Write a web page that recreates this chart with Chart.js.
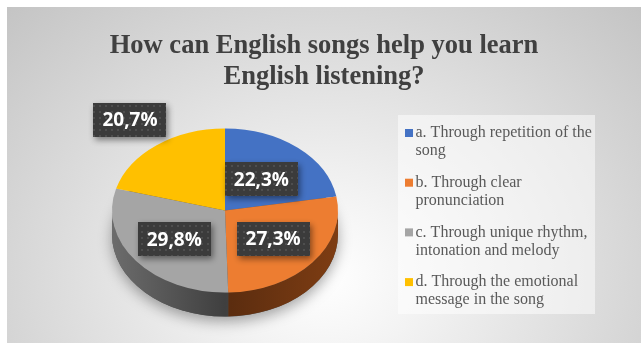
<!DOCTYPE html>
<html>
<head>
<meta charset="utf-8">
<script src="https://cdn.jsdelivr.net/npm/chart.js@4.4.1/dist/chart.umd.min.js"></script>
<style>
  html, body { margin: 0; padding: 0; background: #fff; }
  #wrap {
    position: absolute; left: 7px; top: 7px; width: 634px; height: 336px;
    background: radial-gradient(ellipse farthest-corner at 50% 80%, #ffffff 0%, #f3f3f3 22%, #c4c4c4 100%);
  }
  canvas { display: block; }
</style>
</head>
<body>
<div id="wrap"><canvas id="pieChart" width="634" height="336"></canvas></div>
<script>
const categories = [
  ['a. Through repetition of the', 'song'],
  ['b. Through clear', 'pronunciation'],
  ['c. Through unique rhythm,', 'intonation and melody'],
  ['d. Through the emotional', 'message in the song']
];
const shares = [22.3, 27.3, 29.8, 20.7];
const sliceColors = ['#4472C4', '#ED7D31', '#A5A5A5', '#FFC000'];
// side wall colours: [edge, middle]
const sideColors = [['#2f528f', '#203864'], ['#7e3d13', '#5a2c0f'], ['#6c6c6c', '#3f3f3f'], ['#b38600', '#7f6000']];
const chartTitle = ['How can English songs help you learn', 'English listening?'];

function pct(v) {
  return v.toFixed(1).replace('.', ',') + '%';
}

// dotted fill for the value boxes
function dotPattern(ctx) {
  const c = document.createElement('canvas');
  c.width = 6; c.height = 6;
  const p = c.getContext('2d');
  p.fillStyle = '#3b3b3b';
  p.fillRect(0, 0, 6, 6);
  p.fillStyle = '#4e4e4e';
  p.fillRect(2, 2, 2, 2);
  return ctx.createPattern(c, 'repeat');
}

// tilted pie: squash the arcs, add a front wall and the value boxes
const pie3d = {
  id: 'pie3d',
  beforeDatasetsDraw(chart, args, opts) {
    const ctx = chart.ctx;
    const arcs = chart.getDatasetMeta(0).data;
    const cx = arcs[0].x, cy = arcs[0].y, r = arcs[0].outerRadius;
    const ry = r * opts.tilt, d = opts.depth;

    ctx.save();
    ctx.shadowColor = 'rgba(0,0,0,0.35)';
    ctx.shadowBlur = 14;
    ctx.shadowOffsetY = 5;
    ctx.fillStyle = '#505050';
    ctx.beginPath();
    ctx.ellipse(cx, cy + d, r, ry, 0, 0, Math.PI * 2);
    ctx.fill();
    ctx.restore();

    arcs.forEach((arc, i) => {
      const a0 = Math.max(arc.startAngle, 0);
      const a1 = Math.min(arc.endAngle, Math.PI);
      if (a1 <= a0) return;
      const g = ctx.createLinearGradient(cx - r, 0, cx + r, 0);
      g.addColorStop(0, sideColors[i][0]);
      g.addColorStop(0.5, sideColors[i][1]);
      g.addColorStop(1, sideColors[i][0]);
      ctx.fillStyle = g;
      ctx.beginPath();
      ctx.ellipse(cx, cy, r, ry, 0, a0, a1);
      ctx.ellipse(cx, cy + d, r, ry, 0, a1, a0, true);
      ctx.closePath();
      ctx.fill();
    });

    ctx.save();
    ctx.translate(cx, cy);
    ctx.scale(1, opts.tilt);
    ctx.translate(-cx, -cy);
  },
  afterDatasetsDraw(chart, args, opts) {
    const ctx = chart.ctx;
    ctx.restore();
    const arcs = chart.getDatasetMeta(0).data;
    const fill = dotPattern(ctx);
    ctx.save();
    ctx.font = 'bold 19px "Open Sans"';
    ctx.textAlign = 'center';
    ctx.textBaseline = 'middle';
    arcs.forEach((arc, i) => {
      const mid = (arc.startAngle + arc.endAngle) / 2;
      const rr = arc.outerRadius * opts.labelRadius[i];
      const x = arc.x + Math.cos(mid) * rr;
      const y = arc.y + Math.sin(mid) * rr * opts.tilt;
      const text = pct(shares[i]);
      const w = ctx.measureText(text).width + 18, h = 34;
      ctx.save();
      ctx.shadowColor = 'rgba(0,0,0,0.45)';
      ctx.shadowBlur = 6;
      ctx.shadowOffsetX = 2;
      ctx.shadowOffsetY = 3;
      ctx.fillStyle = fill;
      ctx.fillRect(Math.round(x - w / 2), Math.round(y - h / 2), Math.round(w), h);
      ctx.restore();
      ctx.fillStyle = '#ffffff';
      ctx.fillText(text, x, y + 1);
    });
    ctx.restore();
  }
};

// legend column: reserves room on the right through the layout, then draws
// two-line entries on a pale panel
const sideLegend = {
  id: 'sideLegend',
  beforeInit(chart, args, opts) {
    const box = {
      position: 'right',
      weight: 1000,
      fullSize: false,
      options: { display: true },
      width: 0, height: 0, left: 0, top: 0, right: 0, bottom: 0,
      isHorizontal() { return false; },
      update(maxWidth, maxHeight) {
        this.width = chart.options.plugins.sideLegend.reserve;
        this.height = maxHeight;
        return { width: this.width, height: this.height };
      },
      draw() {}
    };
    Chart.layouts.addBox(chart, box);
  },
  afterDraw(chart, args, opts) {
    const ctx = chart.ctx;
    const labels = chart.data.labels;
    const colors = chart.data.datasets[0].backgroundColor;
    ctx.save();
    ctx.fillStyle = 'rgba(255,255,255,0.5)';
    ctx.fillRect(opts.x, opts.y, opts.width, opts.height);
    ctx.font = '16px "Liberation Serif"';
    ctx.textBaseline = 'middle';
    labels.forEach((lines, i) => {
      const top = opts.y + opts.firstLine + i * opts.itemStep;
      ctx.fillStyle = colors[i];
      ctx.fillRect(opts.x + 7, top - 4, 8, 8);
      ctx.fillStyle = '#595959';
      lines.forEach((t, j) => ctx.fillText(t, opts.x + 17.5, top + j * opts.lineStep));
    });
    ctx.restore();
  }
};

new Chart(document.getElementById('pieChart'), {
  type: 'pie',
  data: {
    labels: categories,
    datasets: [{
      data: shares,
      backgroundColor: sliceColors,
      borderWidth: 0,
      radius: 113
    }]
  },
  options: {
    responsive: false,
    animation: false,
    events: [],
    layout: { padding: { left: 0, right: 0, top: 0, bottom: 15 } },
    plugins: {
      legend: { display: false },
      tooltip: { enabled: false },
      title: {
        display: true,
        text: chartTitle,
        color: '#404040',
        font: { family: 'Liberation Serif', size: 26.5, weight: 'bold', lineHeight: 1.17 },
        padding: { top: 24, bottom: 0 }
      },
      pie3d: { tilt: 0.726, depth: 24, labelRadius: [0.5, 0.55, 0.57, 1.39] },
      sideLegend: { reserve: 198, x: 391, y: 108, width: 197, height: 199, firstLine: 18, itemStep: 49.7, lineStep: 18 }
    }
  },
  plugins: [pie3d, sideLegend]
});
</script>
</body>
</html>
